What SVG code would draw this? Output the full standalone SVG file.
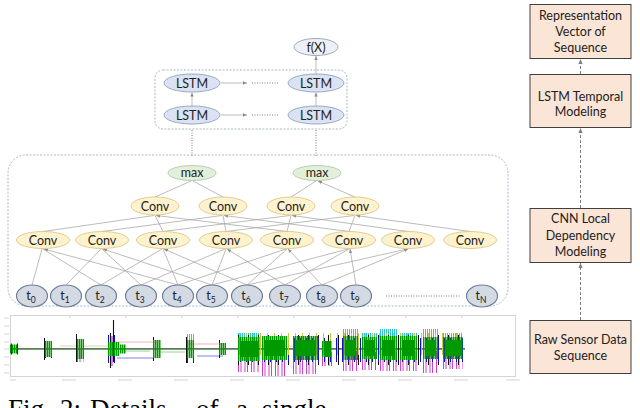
<svg xmlns="http://www.w3.org/2000/svg" width="640" height="408" viewBox="0 0 640 408">
<style>
.lstm{fill:#DAE3F3;stroke:#8497B0;stroke-width:.8}
.fx{fill:#EDF1F7;stroke:#8497B0;stroke-width:.8}
.max{fill:#E2EFDA;stroke:#A9C4A0;stroke-width:.8}
.conv{fill:#FFF2CC;stroke:#D6C27E;stroke-width:.8}
.tn{fill:#D3DAE4;stroke:#6F7F96;stroke-width:1.2}
.box{fill:#FBE5D6;stroke:#404040;stroke-width:1}
.lbl{font-family:Lato,"Liberation Sans",sans-serif;font-size:12.5px;fill:#222;text-anchor:middle}
.edge{stroke:#A6A6A6;stroke-width:.75;fill:none;marker-end:url(#ah)}
.dot{stroke:#7F7F7F;stroke-width:1;stroke-dasharray:1 1.5;fill:none}
.rarr{stroke:#7F7F7F;stroke-width:1;stroke-dasharray:3 2;fill:none;marker-end:url(#ah2)}
.frame{fill:none;stroke:#A9B8CC;stroke-width:1;stroke-dasharray:2 1.5}
.tick{stroke:#D2D2D2;stroke-width:1}
.mg{stroke:#D040D0;stroke-dasharray:1 1.5 1 3;fill:none}
.cy{stroke:#30C8C8;stroke-dasharray:1 1;fill:none}
.gr{stroke:#009A00;stroke-dasharray:1.5 .5;fill:none}
.gs{stroke:#009A00;fill:none}
.yl{stroke:#C8C83A;stroke-dasharray:1 6;fill:none}
.bk{stroke:#111;stroke-dasharray:1 9;fill:none}
.bl{stroke:#1010D0;stroke-dasharray:1 5;fill:none}
</style>
<defs>
<marker id="ah" viewBox="0 0 6 6" refX="6" refY="3" markerWidth="4" markerHeight="4" orient="auto" markerUnits="userSpaceOnUse"><path d="M0,0.5 L6,3 L0,5.5z" fill="#8C8C8C"/></marker>
<marker id="ah2" viewBox="0 0 6 6" refX="6" refY="3" markerWidth="5" markerHeight="5" orient="auto" markerUnits="userSpaceOnUse"><path d="M0,0.5 L6,3 L0,5.5z" fill="#7F7F7F"/></marker>
</defs>
<rect width="640" height="408" fill="#fff"/>

<!-- frames -->
<rect class="frame" x="8" y="155" width="500" height="151" rx="18"/>
<rect class="frame" x="155" y="70" width="192" height="59" rx="8"/>

<!-- connectors -->
<g id="connectors">
<path class="edge" d="M192 106V92.5"/>
<path class="edge" d="M316 106V92.5"/>
<path class="edge" d="M316 74V56"/>
<path class="edge" d="M221 83H247"/>
<path class="edge" d="M221 115H247"/>
<path class="dot" d="M252 83H279M252 115H279"/>
<path class="dot" d="M192 130V156M316 130V156"/>
<path class="edge" d="M155 197L191 181M223 197L193 181M291 197L316 181M355 197L318 181"/>
<path class="edge" d="M43 231.5L154 215.5M163 231.5L155 215.5M287 231.5L156 215.5"/>
<path class="edge" d="M102 231.5L222 215.5M226 231.5L223 215.5M349 231.5L224 215.5"/>
<path class="edge" d="M163 231.5L290 215.5M287 231.5L291 215.5M408 231.5L292 215.5"/>
<path class="edge" d="M226 231.5L354 215.5M349 231.5L355 215.5M470 231.5L356 215.5"/>
<path class="edge" d="M32 285L42 249M101 285L43 249M178 285L44 249"/>
<path class="edge" d="M66 285L101 249M141 285L102 249M212 285L103 249"/>
<path class="edge" d="M101 285L162 249M178 285L163 249M247 285L164 249"/>
<path class="edge" d="M141 285L225 249M212 285L226 249M285 285L227 249"/>
<path class="edge" d="M178 285L286 249M247 285L287 249M322 285L288 249"/>
<path class="edge" d="M212 285L348 249M285 285L349 249M356 285L350 249"/>
<path class="edge" d="M247 285L407 249M322 285L408 249"/>
<path class="dot" d="M386 296H460"/>
<path class="rarr" d="M580.5 74V59"/>
<path class="rarr" d="M580.5 208V128"/>
<path class="rarr" d="M580.5 320V263"/>
</g>

<!-- nodes -->
<g id="fx"><ellipse class="fx" cx="316" cy="47" rx="22" ry="8.5"/><text class="lbl" x="316" y="51.5">f(X)</text></g>
<g id="lstm-a1"><ellipse class="lstm" cx="192" cy="83" rx="28" ry="9"/><text class="lbl" x="192" y="87.5">LSTM</text></g>
<g id="lstm-a2"><ellipse class="lstm" cx="316" cy="83" rx="28" ry="9"/><text class="lbl" x="316" y="87.5">LSTM</text></g>
<g id="lstm-b1"><ellipse class="lstm" cx="192" cy="115" rx="28" ry="9"/><text class="lbl" x="192" y="119.5">LSTM</text></g>
<g id="lstm-b2"><ellipse class="lstm" cx="316" cy="115" rx="28" ry="9"/><text class="lbl" x="316" y="119.5">LSTM</text></g>

<g id="max1"><ellipse class="max" cx="192" cy="173" rx="24" ry="7.5"/><text class="lbl" x="192" y="177">max</text></g>
<g id="max2"><ellipse class="max" cx="317" cy="173" rx="24" ry="7.5"/><text class="lbl" x="317" y="177">max</text></g>

<g id="uconv1"><ellipse class="conv" cx="155" cy="206" rx="24" ry="9"/><text class="lbl" x="155" y="210.5">Conv</text></g>
<g id="uconv2"><ellipse class="conv" cx="223" cy="206" rx="24" ry="9"/><text class="lbl" x="223" y="210.5">Conv</text></g>
<g id="uconv3"><ellipse class="conv" cx="291" cy="206" rx="24" ry="9"/><text class="lbl" x="291" y="210.5">Conv</text></g>
<g id="uconv4"><ellipse class="conv" cx="355" cy="206" rx="24" ry="9"/><text class="lbl" x="355" y="210.5">Conv</text></g>

<g id="conv0"><ellipse class="conv" cx="43" cy="240" rx="26.5" ry="8.5"/><text class="lbl" x="43" y="244.5">Conv</text></g>
<g id="conv1"><ellipse class="conv" cx="102" cy="240" rx="26.5" ry="8.5"/><text class="lbl" x="102" y="244.5">Conv</text></g>
<g id="conv2"><ellipse class="conv" cx="163" cy="240" rx="26.5" ry="8.5"/><text class="lbl" x="163" y="244.5">Conv</text></g>
<g id="conv3"><ellipse class="conv" cx="226" cy="240" rx="26.5" ry="8.5"/><text class="lbl" x="226" y="244.5">Conv</text></g>
<g id="conv4"><ellipse class="conv" cx="287" cy="240" rx="26.5" ry="8.5"/><text class="lbl" x="287" y="244.5">Conv</text></g>
<g id="conv5"><ellipse class="conv" cx="349" cy="240" rx="26.5" ry="8.5"/><text class="lbl" x="349" y="244.5">Conv</text></g>
<g id="conv6"><ellipse class="conv" cx="408" cy="240" rx="26.5" ry="8.5"/><text class="lbl" x="408" y="244.5">Conv</text></g>
<g id="conv7"><ellipse class="conv" cx="470" cy="240" rx="26.5" ry="8.5"/><text class="lbl" x="470" y="244.5">Conv</text></g>

<g id="t0"><ellipse class="tn" cx="32" cy="296" rx="15.5" ry="11"/><text class="lbl" x="31" y="300">t<tspan font-size="8.5" dy="3">0</tspan></text></g>
<g id="t1"><ellipse class="tn" cx="66" cy="296" rx="15.5" ry="11"/><text class="lbl" x="65" y="300">t<tspan font-size="8.5" dy="3">1</tspan></text></g>
<g id="t2"><ellipse class="tn" cx="101" cy="296" rx="15.5" ry="11"/><text class="lbl" x="100" y="300">t<tspan font-size="8.5" dy="3">2</tspan></text></g>
<g id="t3"><ellipse class="tn" cx="141" cy="296" rx="15.5" ry="11"/><text class="lbl" x="140" y="300">t<tspan font-size="8.5" dy="3">3</tspan></text></g>
<g id="t4"><ellipse class="tn" cx="178" cy="296" rx="15.5" ry="11"/><text class="lbl" x="177" y="300">t<tspan font-size="8.5" dy="3">4</tspan></text></g>
<g id="t5"><ellipse class="tn" cx="212" cy="296" rx="15.5" ry="11"/><text class="lbl" x="211" y="300">t<tspan font-size="8.5" dy="3">5</tspan></text></g>
<g id="t6"><ellipse class="tn" cx="247" cy="296" rx="15.5" ry="11"/><text class="lbl" x="246" y="300">t<tspan font-size="8.5" dy="3">6</tspan></text></g>
<g id="t7"><ellipse class="tn" cx="285" cy="296" rx="15.5" ry="11"/><text class="lbl" x="284" y="300">t<tspan font-size="8.5" dy="3">7</tspan></text></g>
<g id="t8"><ellipse class="tn" cx="322" cy="296" rx="15.5" ry="11"/><text class="lbl" x="321" y="300">t<tspan font-size="8.5" dy="3">8</tspan></text></g>
<g id="t9"><ellipse class="tn" cx="356" cy="296" rx="15.5" ry="11"/><text class="lbl" x="355" y="300">t<tspan font-size="8.5" dy="3">9</tspan></text></g>
<g id="tN"><ellipse class="tn" cx="482" cy="296" rx="15.5" ry="11"/><text class="lbl" x="481" y="300">t<tspan font-size="8.5" dy="3">N</tspan></text></g>

<!-- right column -->
<g id="r1"><rect class="box" x="530" y="4.5" width="101" height="54"/><text class="lbl" x="580.5" y="20">Representation</text><text class="lbl" x="580.5" y="36">Vector of</text><text class="lbl" x="580.5" y="52">Sequence</text></g>
<g id="r2"><rect class="box" x="530" y="74.5" width="101" height="53"/><text class="lbl" x="580.5" y="101">LSTM Temporal</text><text class="lbl" x="580.5" y="116">Modeling</text></g>
<g id="r3"><rect class="box" x="530" y="208.5" width="101" height="54"/><text class="lbl" x="580.5" y="223">CNN Local</text><text class="lbl" x="580.5" y="240">Dependency</text><text class="lbl" x="580.5" y="256">Modeling</text></g>
<g id="r4"><rect class="box" x="530" y="320.5" width="101" height="53"/><text class="lbl" x="580.5" y="344">Raw Sensor Data</text><text class="lbl" x="580.5" y="360">Sequence</text></g>

<!-- sensor plot -->
<g id="plot">
<rect x="10.5" y="315.5" width="505" height="61" fill="#fff" stroke="#D4D4D4"/>
<path class="tick" d="M4 318h5M4 326h5M4 334h5M4 342h5M4 349h5M4 357h5M4 365h5M4 373h5"/>
<path class="tick" d="M10 380h6M62 380h14M118 380h14M174 380h14M230 380h14M286 380h14M342 380h14M398 380h14M454 380h14M506 380h14"/>
<path stroke="#D0D0D0" d="M70 315v3M126 315v3M182 315v3M238 315v3M294 315v3M350 315v3M406 315v3M462 315v3"/>
<path d="M113 342H157M187 344H223" stroke="#F0B0B0" stroke-width="1"/>
<path d="M117 358H153M197 356H223" stroke="#8080EE" stroke-width="1"/>
<path d="M60 346H110M240 346H300" stroke="#D8D8B0" stroke-width="1"/>
<path d="M160 352H185M124 351H150" stroke="#A0CCA0" stroke-width="1"/>
<path d="M12 349H465" stroke="#222" stroke-width="1.2"/>
<path d="M12 348.5H465" stroke="#2a8a2a" stroke-width=".7"/>
<!-- sparse bursts -->
<line class="gr" x1="10" x2="17" y1="349" y2="349" stroke-width="9"/>
<line class="bl" x1="11" x2="18" y1="349" y2="349" stroke-width="11"/>
<line class="bk" x1="44" x2="52" y1="349" y2="349" stroke-width="22"/>
<line class="bl" x1="45" x2="52" y1="350" y2="350" stroke-width="16"/>
<line class="gr" x1="45" x2="52" y1="349" y2="349" stroke-width="16"/>
<line class="bk" x1="76" x2="85" y1="348" y2="348" stroke-width="28"/>
<line class="mg" x1="77" x2="84" y1="356" y2="356" stroke-width="12"/>
<line class="gr" x1="77" x2="84" y1="349" y2="349" stroke-width="20"/>
<line class="bl" x1="108" x2="119" y1="349" y2="349" stroke-width="28"/>
<path d="M112 336V366" stroke="#D040D0" stroke-width="1.2"/>
<path d="M113.5 320V362M110.5 333V368" stroke="#111" stroke-width="1.1"/>
<line class="gr" x1="108" x2="119" y1="349" y2="349" stroke-width="14"/>
<line class="gr" x1="120" x2="126" y1="349" y2="349" stroke-width="9"/>
<line class="bk" x1="153" x2="161" y1="349" y2="349" stroke-width="24"/>
<line class="gr" x1="153" x2="161" y1="349" y2="349" stroke-width="18"/>
<line class="cy" x1="187" x2="194" y1="340" y2="340" stroke-width="12"/>
<line class="bk" x1="186" x2="195" y1="350" y2="350" stroke-width="26"/>
<line class="bl" x1="187" x2="195" y1="352" y2="352" stroke-width="22"/>
<line class="gr" x1="187" x2="194" y1="349" y2="349" stroke-width="18"/>
<line class="bk" x1="219" x2="226" y1="349" y2="349" stroke-width="18"/>
<line class="gr" x1="219" x2="226" y1="349" y2="349" stroke-width="12"/>
<!-- dense blocks -->
<g>
<line class="mg" x1="238" x2="260" y1="361" y2="361" stroke-width="22"/>
<line class="mg" x1="262" x2="287" y1="363" y2="363" stroke-width="26"/>
<line class="mg" x1="293" x2="318" y1="362" y2="362" stroke-width="24"/>
<line class="mg" x1="322" x2="332" y1="359" y2="359" stroke-width="14"/>
<line class="mg" x1="343" x2="358" y1="361" y2="361" stroke-width="20"/>
<line class="mg" x1="362" x2="377" y1="361" y2="361" stroke-width="18"/>
<line class="mg" x1="380" x2="397" y1="361" y2="361" stroke-width="20"/>
<line class="mg" x1="400" x2="417" y1="361" y2="361" stroke-width="20"/>
<line class="mg" x1="423" x2="438" y1="362" y2="362" stroke-width="22"/>
<line class="mg" x1="443" x2="463" y1="360" y2="360" stroke-width="18"/>
<line class="cy" x1="238" x2="260" y1="338" y2="338" stroke-width="10"/>
<line class="cy" x1="343" x2="358" y1="336" y2="336" stroke-width="14"/>
<line class="cy" x1="362" x2="377" y1="338" y2="338" stroke-width="10"/>
<line class="cy" x1="380" x2="397" y1="336" y2="336" stroke-width="14"/>
<line class="cy" x1="400" x2="417" y1="338" y2="338" stroke-width="10"/>
<line class="cy" x1="423" x2="438" y1="336" y2="336" stroke-width="14"/>
<line class="cy" x1="443" x2="463" y1="338" y2="338" stroke-width="10"/>
<line class="bk" x1="238" x2="463" y1="350" y2="350" stroke-width="30"/>
<line class="bl" x1="240" x2="463" y1="350" y2="350" stroke-width="24"/>
<line class="yl" x1="239" x2="463" y1="344" y2="344" stroke-width="22"/>
<line class="gr" x1="238" x2="260" y1="349" y2="349" stroke-width="24"/>
<line class="gr" x1="262" x2="287" y1="348" y2="348" stroke-width="24"/>
<line class="gr" x1="293" x2="318" y1="348" y2="348" stroke-width="24"/>
<line class="gr" x1="322" x2="332" y1="349" y2="349" stroke-width="16"/>
<line class="gr" x1="343" x2="358" y1="348" y2="348" stroke-width="24"/>
<line class="gr" x1="362" x2="377" y1="348" y2="348" stroke-width="22"/>
<line class="gr" x1="380" x2="397" y1="348" y2="348" stroke-width="24"/>
<line class="gr" x1="400" x2="417" y1="348" y2="348" stroke-width="24"/>
<line class="gr" x1="423" x2="438" y1="348" y2="348" stroke-width="22"/>
<line class="gr" x1="443" x2="463" y1="348" y2="348" stroke-width="22"/>
<path class="gs" stroke-width="16" d="M240 349H258M264 348H285M295 348H316M324 349H330M345 348H356M364 348H375M382 348H395M402 348H415M425 348H436M445 348H461"/>
</g>
</g>

<text y="418" font-family="'Liberation Serif',serif" font-size="27" fill="#000"><tspan x="8">Fig.</tspan><tspan x="60">2:</tspan><tspan x="90">Details</tspan><tspan x="196">of</tspan><tspan x="236">a</tspan><tspan x="262">single</tspan></text>
</svg>
